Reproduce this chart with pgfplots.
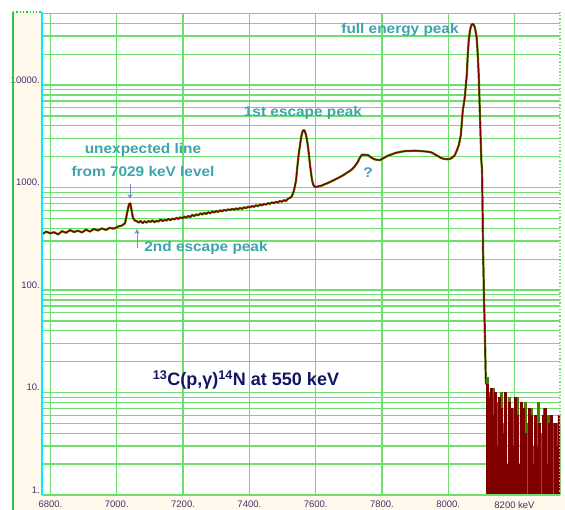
\documentclass[border=0pt]{standalone}
\usepackage{pgfplots}
\pgfplotsset{compat=1.18}
\usepackage{pgfplotstable}
\usepackage{fontspec}
\setmainfont{Liberation Sans}
\usetikzlibrary{arrows.meta}
\definecolor{gridgreen}{RGB}{110,222,110}
\definecolor{framegreen}{RGB}{40,200,70}
\definecolor{cream}{RGB}{255,249,236}
\definecolor{axcyan}{RGB}{0,235,255}
\definecolor{spred}{RGB}{128,0,0}
\definecolor{spgreen}{RGB}{70,128,0}
\definecolor{ticklab}{RGB}{70,50,110}
\definecolor{annot}{RGB}{60,165,170}
\definecolor{arrowc}{RGB}{130,130,210}
\definecolor{titlec}{RGB}{20,20,100}

\pgfplotstableread{
E C
6775 352
6787 371
6799 358
6811 366
6823 349
6835 375
6847 362
6859 384
6871 368
6883 379
6895 365
6907 388
6919 372
6931 394
6943 381
6955 399
6967 386
6979 404
6991 397
7003 415
7015 425
7025 448
7031 560
7037 690
7041 700
7045 590
7049 505
7054 478
7060 470
7066 455
7072 472
7078 450
7084 468
7090 455
7096 471
7102 462
7108 478
7114 458
7120 474
7126 466
7132 488
7138 470
7144 484
7150 476
7156 494
7162 480
7168 498
7174 489
7180 505
7186 494
7192 512
7198 500
7204 521
7210 508
7216 528
7222 516
7228 540
7234 527
7240 548
7246 536
7252 560
7258 545
7264 566
7270 552
7276 575
7282 560
7288 584
7294 570
7300 591
7306 578
7312 600
7318 585
7324 606
7330 594
7336 612
7342 602
7348 620
7354 607
7360 625
7366 614
7372 632
7378 619
7384 640
7390 628
7396 650
7402 638
7408 660
7414 648
7420 671
7426 657
7432 684
7438 668
7444 694
7450 680
7456 705
7462 692
7468 716
7474 702
7480 726
7486 712
7492 740
7498 726
7504 752
7510 740
7516 775
7522 790
7528 820
7534 920
7538 1050
7541 1183
7544 1500
7547 1855
7550 2250
7553 2600
7556 3050
7559 3400
7562 3600
7565 3640
7568 3500
7571 3250
7574 2900
7577 2480
7580 2050
7583 1660
7586 1400
7589 1183
7593 1060
7598 1010
7605 1020
7613 1035
7620 1050
7628 1080
7635 1100
7643 1132
7650 1160
7658 1195
7665 1225
7673 1265
7680 1300
7688 1350
7695 1395
7703 1449
7710 1510
7716 1580
7722 1680
7727 1774
7733 1950
7739 2075
7745 2090
7752 2080
7758 2075
7764 2000
7770 1940
7776 1897
7782 1870
7788 1860
7794 1855
7800 1900
7808 1960
7816 2030
7824 2075
7832 2120
7840 2170
7848 2200
7854 2219
7862 2245
7870 2265
7878 2275
7884 2270
7892 2280
7900 2290
7908 2275
7915 2270
7922 2260
7930 2250
7938 2235
7945 2219
7952 2180
7960 2100
7969 2028
7976 1960
7983 1920
7990 1897
7997 1890
8005 1897
8012 1960
8020 2075
8026 2300
8032 2600
8035 2900
8038 3250
8041 4300
8044 5700
8047 6500
8050 7640
8053 9800
8056 12530
8059 20000
8062 27500
8065 33000
8068 36800
8071 39000
8074 39400
8077 38500
8080 36800
8083 33000
8086 28760
8089 20000
8092 12530
8095 6000
8098 2905
8100 1800
8102 1482
8104 500
8105 245
8107 120
8108 80
8110 45
8111 32
8113 15
8114 12
}\mainspec

\pgfplotstableread{
E C
8114 1
8114 14
8120 10
8126 6
8132 11
8138 3
8144 8
8150 1
8156 10
8162 5
8168 8
8174 2
8180 9
8186 1
8192 7
8198 4
8204 9
8210 2
8216 6
8222 1
8228 8
8234 5
8240 1
8246 7
8252 3
8258 1
8264 6
8270 8
8276 1
8282 4
8288 7
8294 2
8300 6
8306 1
8312 5
8318 3
8324 1
8330 5
8336 5
8338 1
}\noisegreen

\pgfplotstableread{
E C
8115 1
8115 12
8121 9
8127 11
8133 6
8139 10
8145 3
8151 9
8157 7
8163 4
8169 10
8175 2
8181 8
8187 7
8193 3
8199 9
8205 6
8211 2
8217 8
8223 7
8229 4
8235 1
8241 7
8247 6
8253 2
8259 6
8265 3
8271 5
8277 1
8283 6
8289 7
8295 2
8301 5
8307 6
8313 1
8319 5
8325 3
8331 6
8337 6
8339 1
}\noisered

\newcommand{\ann}[1]{\scalebox{1.1}[1]{\bfseries\fontsize{14}{16}\selectfont #1}}

\begin{document}
\begin{tikzpicture}[x=1pt,y=1pt]
\path[use as bounding box] (0,0) rectangle (565,510);
\fill[white] (0,0) rectangle (565,510);
\fill[cream] (13,0) -- (565,0) -- (565,15) -- (42,15) -- (42,498) -- (13,498) -- cycle;
\begin{axis}[
  at={(42pt,15pt)}, anchor=south west,
  scale only axis, width=518pt, height=481.6pt,
  xmin=6774.4, xmax=8337.2,
  ymode=log, ymin=1, ymax=50000,
  axis line style={draw=none},
  xtick={6800,7000,7200,7400,7600,7800,8000,8200},
  xticklabels={6800.,7000.,7200.,7400.,7600.,7800.,8000.,8200 keV},
  ytick={1,10,100,1000,10000},
  yticklabels={1.,10.,100.,1000.,10000.},
  minor ytick={2,3,4,5,6,7,8,9,20,30,40,50,60,70,80,90,200,300,400,500,600,700,800,900,2000,3000,4000,5000,6000,7000,8000,9000,20000,30000,40000},
  major tick length=0pt, minor tick length=0pt,
  grid=both,
  major grid style={gridgreen, line width=1.3pt},
  minor grid style={gridgreen, line width=1.3pt},
  tick label style={font=\fontsize{9.5}{11}\selectfont, text=ticklab},
  yticklabel style={anchor=east, inner sep=0pt, xshift=-2pt, yshift=5pt},
  xticklabel style={anchor=north, inner sep=0pt, yshift=-6pt},
  clip=true,
]
\addplot[spgreen, line width=2.2pt, line join=round] table {\mainspec};
\addplot[spred, line width=1.2pt, line join=round] table {\mainspec};
\addplot[const plot, draw=spgreen, fill=spgreen, line width=0.5pt] table {\noisegreen};
\addplot[const plot, draw=spred, fill=spred, line width=0.5pt] table {\noisered};
\end{axis}
% frame lines
\draw[framegreen, line width=1.5pt] (13,0) -- (13,498);
\draw[framegreen, line width=1.3pt, dotted] (13,498) -- (42,498);
\draw[gridgreen, line width=1.3pt] (42,496.6) -- (560,496.6);
\draw[gridgreen, line width=1.3pt] (42,15) -- (560,15);
\draw[gridgreen, line width=1.3pt, dotted] (560,15) -- (560,498);
\draw[axcyan, line width=1.5pt] (42,15) -- (42,498);
% annotations
\node[text=annot] at (143,360) {\ann{unexpected line}};
\node[text=annot] at (143,338) {\ann{from 7029 keV level}};
\node[text=annot] at (206,262) {\ann{2nd escape peak}};
\node[text=annot] at (303,397) {\ann{1st escape peak}};
\node[text=annot] at (400,480) {\ann{full energy peak}};
\node[text=annot] at (368,337) {\ann{?}};
\draw[arrowc, line width=0.9pt, -{Stealth[length=5pt,width=5pt]}] (130,326) -- (130,311);
\draw[arrowc, line width=0.9pt, -{Stealth[length=5pt,width=5pt]}] (137,262) -- (137,281);
\node[text=titlec, font=\bfseries\fontsize{18}{20}\selectfont] at (246,130) {\textsuperscript{13}C(p,γ)\textsuperscript{14}N at 550 keV};
\end{tikzpicture}
\end{document}
